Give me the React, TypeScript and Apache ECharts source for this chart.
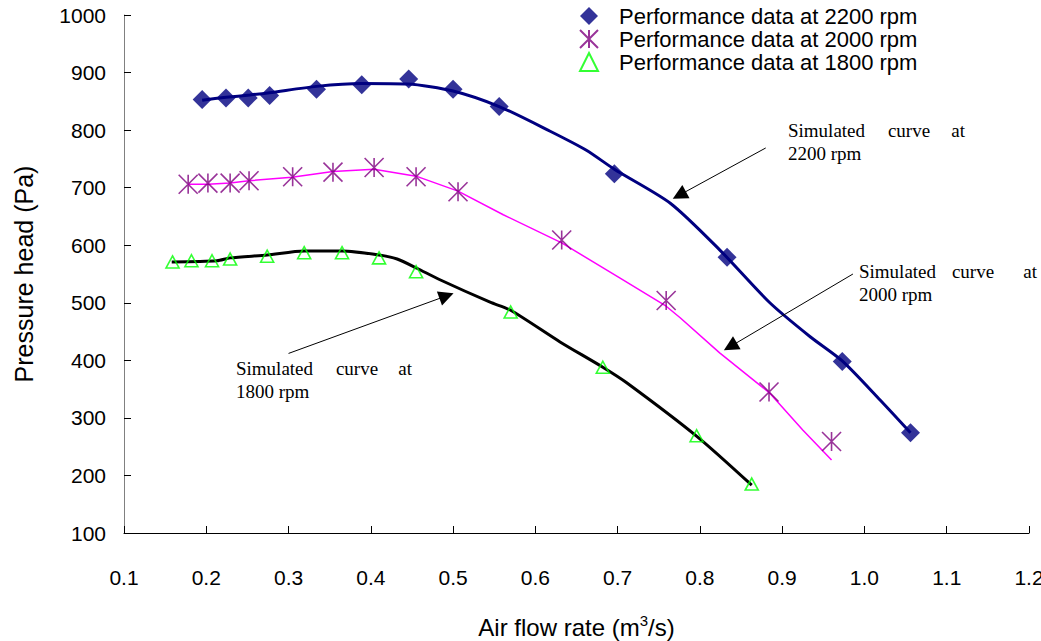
import React, { useEffect, useRef } from "react";
import * as echarts from "echarts";

// Measured fan performance (air flow rate m3/s, pressure head Pa)
const data2200: [number, number][] = [
  [0.195, 853], [0.224, 856], [0.251, 856], [0.277, 860], [0.334, 871],
  [0.389, 879], [0.446, 889], [0.5, 871], [0.556, 841], [0.696, 724],
  [0.833, 579], [0.973, 398], [1.056, 274],
];
const data2000: [number, number][] = [
  [0.178, 706], [0.202, 708], [0.229, 708], [0.252, 712], [0.305, 719],
  [0.354, 727], [0.404, 735], [0.455, 719], [0.506, 693], [0.632, 609],
  [0.759, 504], [0.884, 345], [0.96, 259],
];
const data1800: [number, number][] = [
  [0.159, 571], [0.182, 573], [0.207, 573], [0.229, 576], [0.274, 581],
  [0.319, 587], [0.365, 587], [0.41, 578], [0.455, 554], [0.57, 484],
  [0.682, 388], [0.796, 269], [0.863, 185],
];

// Simulated characteristic curves
const sim2200: [number, number][] = [
  [0.195, 852], [0.224, 857], [0.253, 861], [0.277, 865], [0.334, 876],
  [0.389, 881], [0.445, 880], [0.5, 868], [0.556, 841], [0.618, 798],
  [0.662, 765], [0.696, 732], [0.764, 673], [0.824, 592], [0.885, 500],
  [0.934, 441], [0.973, 399], [1.019, 331], [1.056, 274],
];
const sim2000: [number, number][] = [
  [0.178, 706], [0.202, 706], [0.229, 708], [0.252, 712], [0.304, 718],
  [0.354, 728], [0.404, 732], [0.455, 720], [0.506, 694], [0.561, 653],
  [0.632, 604], [0.703, 543], [0.759, 494], [0.776, 474], [0.824, 413],
  [0.885, 343], [0.925, 279], [0.96, 227],
];
const sim1800: [number, number][] = [
  [0.158, 571], [0.213, 573], [0.229, 578], [0.274, 583], [0.319, 590],
  [0.365, 590], [0.41, 583], [0.432, 576], [0.456, 560], [0.484, 540],
  [0.545, 501], [0.57, 487], [0.63, 432], [0.682, 388], [0.711, 361],
  [0.797, 267], [0.863, 183],
];

// Annotation arrows: [start, arrow-head] in data coordinates
const arrow2200: [number, number][] = [[0.88, 769], [0.775, 687]];
const arrow2000: [number, number][] = [[0.986, 550], [0.837, 424]];
const arrow1800: [number, number][] = [[0.3, 412], [0.492, 512]];

const legendNames = [
  "Performance data at 2200 rpm",
  "Performance data at 2000 rpm",
  "Performance data at 1800 rpm",
];

const SANS = "'Liberation Sans', Arial, sans-serif";
const SERIF = "'Liberation Serif', 'Times New Roman', serif";
const STAR = "path://M0,0L20,20M20,0L0,20M10,0L10,20";

function annotation(x0: number, x1: number, xm: number, y: number, rpm: string) {
  const font = `19px ${SERIF}`;
  const base = { fill: "#000", font, verticalAlign: "middle" as const };
  return [
    { type: "text", style: { ...base, text: "Simulated", x: x0, y, align: "left" } },
    { type: "text", style: { ...base, text: "curve", x: xm, y, align: "center" } },
    { type: "text", style: { ...base, text: "at", x: x1, y, align: "right" } },
    { type: "text", style: { ...base, text: rpm, x: x0, y: y + 23, align: "left" } },
  ];
}

export default function App() {
  const ref = useRef<HTMLDivElement>(null);

  useEffect(() => {
    if (!ref.current) return;
    const chart = echarts.init(ref.current, null, { renderer: "svg" });

    const arrowLine = (pts: [number, number][]) => [
      { coord: pts[0], symbol: "none" },
      { coord: pts[1], symbol: "triangle" },
    ];
    const arrowMark = (pts: [number, number][]) => ({
      silent: true,
      symbolSize: 15,
      label: { show: false },
      lineStyle: { color: "#000", width: 1, type: "solid" },
      itemStyle: { color: "#000" },
      data: [arrowLine(pts)],
    });

    chart.setOption({
      animation: false,
      backgroundColor: "#fff",
      grid: {
        left: 124,
        right: 12,
        top: 15,
        bottom: 108,
        containLabel: false,
        outerBoundsMode: "none",
      },
      legend: {
        data: legendNames,
        orient: "vertical",
        left: 574,
        top: 0,
        itemWidth: 18,
        itemHeight: 18,
        itemGap: 1,
        textStyle: {
          fontFamily: SANS,
          fontSize: 22,
          color: "#000",
          lineHeight: 18,
          padding: [0, 0, 0, 16],
        },
      },
      xAxis: {
        type: "value",
        min: 0.1,
        max: 1.2,
        interval: 0.1,
        name: "Air flow rate (m{sup|3}/s)",
        nameLocation: "middle",
        nameGap: 80,
        nameTextStyle: {
          fontFamily: SANS,
          fontSize: 24,
          color: "#000",
          rich: {
            sup: {
              fontFamily: SANS,
              fontSize: 15,
              color: "#000",
              verticalAlign: "top",
              padding: [0, 0, 14, 0],
            },
          },
        },
        axisLine: { lineStyle: { color: "#000", width: 1 } },
        axisTick: { inside: true, length: 7, lineStyle: { color: "#000" } },
        axisLabel: {
          margin: 34,
          fontFamily: SANS,
          fontSize: 21,
          color: "#000",
          formatter: (v: number) => v.toFixed(1),
        },
        splitLine: { show: false },
      },
      yAxis: {
        type: "value",
        min: 100,
        max: 1000,
        interval: 100,
        name: "Pressure head (Pa)",
        nameLocation: "middle",
        nameGap: 88,
        nameRotate: 90,
        nameTextStyle: { fontFamily: SANS, fontSize: 25, color: "#000" },
        axisLine: { show: true, lineStyle: { color: "#808080", width: 1 } },
        axisTick: { show: true, inside: true, length: 7, lineStyle: { color: "#000" } },
        axisLabel: {
          margin: 18,
          fontFamily: SANS,
          fontSize: 21,
          color: "#000",
          formatter: (v: number) => String(Math.round(v)),
        },
        splitLine: { show: false },
      },
      series: [
        {
          name: "sim2200",
          type: "line",
          data: sim2200,
          showSymbol: false,
          smooth: 0.25,
          lineStyle: { color: "#000080", width: 3 },
          z: 2,
          markLine: arrowMark(arrow2200),
        },
        {
          name: "sim2000",
          type: "line",
          data: sim2000,
          showSymbol: false,
          lineStyle: { color: "#FF00FF", width: 1.5 },
          z: 2,
          markLine: arrowMark(arrow2000),
        },
        {
          name: "sim1800",
          type: "line",
          data: sim1800,
          showSymbol: false,
          smooth: 0.25,
          lineStyle: { color: "#000", width: 3 },
          z: 2,
          markLine: arrowMark(arrow1800),
        },
        {
          name: legendNames[0],
          type: "scatter",
          data: data2200,
          symbol: "diamond",
          symbolSize: 19,
          itemStyle: { color: "#000080" },
          z: 3,
        },
        {
          name: legendNames[1],
          type: "scatter",
          data: data2000,
          symbol: STAR,
          symbolSize: 19,
          itemStyle: { color: "rgba(0,0,0,0)", borderColor: "#800080", borderWidth: 1.6 },
          z: 3,
        },
        {
          name: legendNames[2],
          type: "scatter",
          data: data1800,
          symbol: "triangle",
          symbolSize: [13, 12],
          itemStyle: { color: "rgba(0,0,0,0)", borderColor: "#00FF00", borderWidth: 1.6 },
          z: 3,
        },
      ],
      graphic: [
        ...annotation(788, 965, 909, 130, "2200 rpm"),
        ...annotation(859, 1037, 973, 271, "2000 rpm"),
        ...annotation(236, 412, 357, 368, "1800 rpm"),
      ],
    });

    return () => chart.dispose();
  }, []);

  return (
    <div
      ref={ref}
      style={{ width: 1041, height: 641, position: "absolute", left: 0, top: 0 }}
    />
  );
}
